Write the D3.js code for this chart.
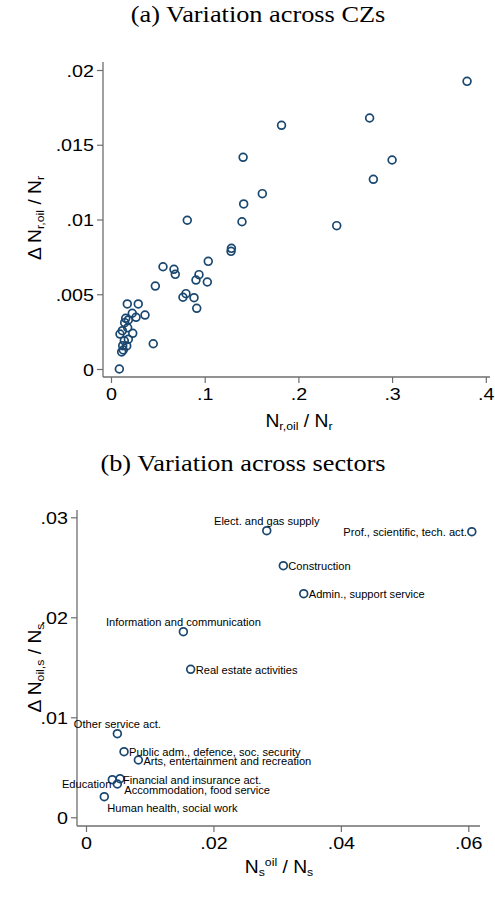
<!DOCTYPE html>
<html>
<head>
<meta charset="utf-8">
<script src="https://cdn.jsdelivr.net/npm/d3@7"></script>
<style>
  html, body { margin: 0; padding: 0; background: #fff; }
  svg { display: block; }
  .tick text { font-family: "Liberation Sans", Arial, sans-serif; }
</style>
</head>
<body>
<svg id="fig" width="495" height="901"></svg>
<script>
// Panel (a): commuting zones — share of oil employment vs. change in oil employment share
const czShare = [0.380, 0.276, 0.182, 0.141, 0.300, 0.280, 0.1615, 0.1416, 0.0814, 0.1398, 0.2409,
  0.1285, 0.1281, 0.1038, 0.0555, 0.0672, 0.0686, 0.0939, 0.0907, 0.1028, 0.0473, 0.0800, 0.0768,
  0.0886, 0.0915, 0.0174, 0.0291, 0.0363, 0.0227, 0.0267, 0.0157, 0.0146, 0.0185, 0.0178, 0.0121,
  0.0232, 0.0096, 0.0185, 0.0142, 0.0125, 0.0168, 0.0451, 0.0114, 0.0131, 0.0089];
const czDelta = [0.01924, 0.01679, 0.01630, 0.01416, 0.01398, 0.01269, 0.01173, 0.01104, 0.00995, 0.00985, 0.00959,
  0.00807, 0.00787, 0.00720, 0.00684, 0.00667, 0.00633, 0.00631, 0.00595, 0.00582, 0.00555, 0.00504, 0.00480,
  0.00477, 0.00406, 0.00435, 0.00435, 0.00361, 0.00373, 0.00346, 0.00339, 0.00310, 0.00328, 0.00276, 0.00256,
  0.00239, 0.00234, 0.00199, 0.00189, 0.00156, 0.00154, 0.00169, 0.00114, 0.00127, 0.00000];
const czXTicks = [0, 0.1, 0.2, 0.3, 0.4];
const czYTicks = [0, 0.005, 0.01, 0.015, 0.02];

// Panel (b): sectors
const sectors = ["Elect. and gas supply", "Prof., scientific, tech. act.", "Construction",
  "Admin., support service", "Information and communication", "Real estate activities",
  "Other service act.", "Public adm., defence, soc. security", "Arts, entertainment and recreation",
  "Education", "Financial and insurance act.", "Accommodation, food service", "Human health, social work"];
const sectorShare = [0.02837, 0.06055, 0.03097, 0.03417, 0.01528, 0.01643,
  0.00492, 0.00597, 0.00822, 0.00413, 0.00534, 0.00492, 0.00287];
const sectorDelta = [0.02866, 0.02856, 0.02516, 0.02236, 0.01856, 0.01480,
  0.00836, 0.00656, 0.00573, 0.00376, 0.00386, 0.00333, 0.00206];
const secXTicks = [0, 0.02, 0.04, 0.06];
const secYTicks = [0, 0.01, 0.02, 0.03];

const MARK = "#1a476f";
const AXIS = "#6e6e6e";
const SANS = "'Liberation Sans', Arial, sans-serif";
const SERIF = "'Liberation Serif', 'DejaVu Serif', serif";
// the exported graph's lettering is slightly wide; a horizontal stretch reproduces that
const SX_TICK = 1.16, SX_TITLE = 1.17, SX_LAB = 1.07;

const svg = d3.select("#fig");
const fmt = v => v === 0 ? "0" : String(+v.toPrecision(3)).replace(/^0\./, ".");

function panel(opts) {
  const { xs, ys, xDom, yDom, xRange, yRange, xAxisY, yAxisX, xEnd, yTop, xTicks, yTicks } = opts;
  const x = d3.scaleLinear().domain(xDom).range(xRange);
  const y = d3.scaleLinear().domain(yDom).range(yRange);

  const gx = svg.append("g").attr("transform", `translate(0,${xAxisY})`)
    .call(d3.axisBottom(x).tickValues(xTicks).tickFormat(fmt).tickSize(6).tickPadding(5));
  gx.select(".domain").remove();
  gx.append("line").attr("x1", yAxisX).attr("x2", xEnd).attr("stroke", AXIS).attr("stroke-width", 1.3);
  gx.selectAll(".tick line").attr("stroke", AXIS).attr("stroke-width", 1.2);
  gx.selectAll(".tick text").attr("font-size", 17).attr("fill", "#000")
    .attr("transform", `scale(${SX_TICK},1)`);

  const gy = svg.append("g").attr("transform", `translate(${yAxisX},0)`)
    .call(d3.axisLeft(y).tickValues(yTicks).tickFormat(fmt).tickSize(6).tickPadding(3));
  gy.select(".domain").remove();
  gy.append("line").attr("y1", yTop).attr("y2", xAxisY).attr("stroke", AXIS).attr("stroke-width", 1.3);
  gy.selectAll(".tick line").attr("stroke", AXIS).attr("stroke-width", 1.2);
  gy.selectAll(".tick text").attr("font-size", 17).attr("fill", "#000").attr("dy", "0.36em")
    .attr("x", -9 / SX_TICK).attr("transform", `scale(${SX_TICK},1)`);

  svg.append("g").selectAll("circle").data(xs.map((v, i) => [v, ys[i]])).join("circle")
    .attr("cx", d => x(d[0])).attr("cy", d => y(d[1])).attr("r", 3.9)
    .attr("fill", "none").attr("stroke", MARK).attr("stroke-width", 1.7);
  return { x, y };
}

// ---- titles
function title(x, y, s) {
  svg.append("text").attr("transform", `translate(${x},${y}) scale(${SX_TITLE},1)`)
    .attr("text-anchor", "middle").attr("font-family", SERIF).attr("font-size", 22.5).text(s);
}
title(258, 22, "(a) Variation across CZs");
title(243, 471, "(b) Variation across sectors");

// ---- panel (a)
panel({
  xs: czShare, ys: czDelta, xDom: [0, 0.4], yDom: [0, 0.02],
  xRange: [111, 485.8], yRange: [369, 70], xAxisY: 377, yAxisX: 103, xEnd: 490, yTop: 62,
  xTicks: czXTicks, yTicks: czYTicks
});

// axis titles with subscripts / superscripts
function label(x, y, parts, rotate) {
  const t = svg.append("text").attr("font-family", SANS).attr("font-size", 18).attr("fill", "#000")
    .attr("text-anchor", "middle")
    .attr("transform", `translate(${x},${y})${rotate ? " rotate(-90)" : ""} scale(${SX_LAB},1)`);
  parts.forEach(p => {
    const s = t.append("tspan").text(p.t);
    if (p.sub) s.attr("font-size", 11.5).attr("dy", 3);
    else if (p.sup) s.attr("font-size", 11.5).attr("dy", -10);
    else if (p.back) s.attr("dy", p.back);
  });
  return t;
}
label(299, 427, [{ t: "N" }, { t: "r,oil", sub: true }, { t: " / N", back: -3 }, { t: "r", sub: true }]);
label(41, 218, [{ t: "Δ N" }, { t: "r,oil", sub: true }, { t: " / N", back: -3 }, { t: "r", sub: true }], true);

// ---- panel (b)
const b = panel({
  xs: sectorShare, ys: sectorDelta, xDom: [0, 0.06], yDom: [0, 0.03],
  xRange: [86, 468.3], yRange: [817.3, 517.3], xAxisY: 826, yAxisX: 77, xEnd: 480, yTop: 510,
  xTicks: secXTicks, yTicks: secYTicks
});
label(279, 873, [{ t: "N" }, { t: "s", sub: true }, { t: "oil", sup: true }, { t: " / N", back: 7 }, { t: "s", sub: true }]);
label(41, 668, [{ t: "Δ N" }, { t: "oil,s", sub: true }, { t: " / N", back: -3 }, { t: "s", sub: true }], true);

// marker label placement, as clock positions around each marker
const clock = {
  "Elect. and gas supply": 12, "Prof., scientific, tech. act.": 9, "Construction": 3,
  "Admin., support service": 3, "Information and communication": 12, "Real estate activities": 3,
  "Other service act.": 12, "Public adm., defence, soc. security": 3,
  "Arts, entertainment and recreation": 3, "Education": 8, "Financial and insurance act.": 2,
  "Accommodation, food service": 4, "Human health, social work": 5
};
const offs = {
  12: [0, -9, "middle"], 9: [-5, 1, "end"], 8: [-1, 5, "end"], 3: [5, 1, "start"],
  2: [3, 1.5, "start"], 4: [7, 6, "start"], 5: [3, 12, "start"]
};
svg.append("g").selectAll("text").data(sectors).join("text")
  .attr("transform", (d, i) => `translate(${b.x(sectorShare[i]) + offs[clock[d]][0]},${b.y(sectorDelta[i]) + offs[clock[d]][1]}) scale(1.08,1)`)
  .attr("dy", "0.35em")
  .attr("text-anchor", d => offs[clock[d]][2])
  .attr("font-family", SANS).attr("font-size", 10.3).attr("fill", "#000")
  .text(d => d);
</script>
</body>
</html>
